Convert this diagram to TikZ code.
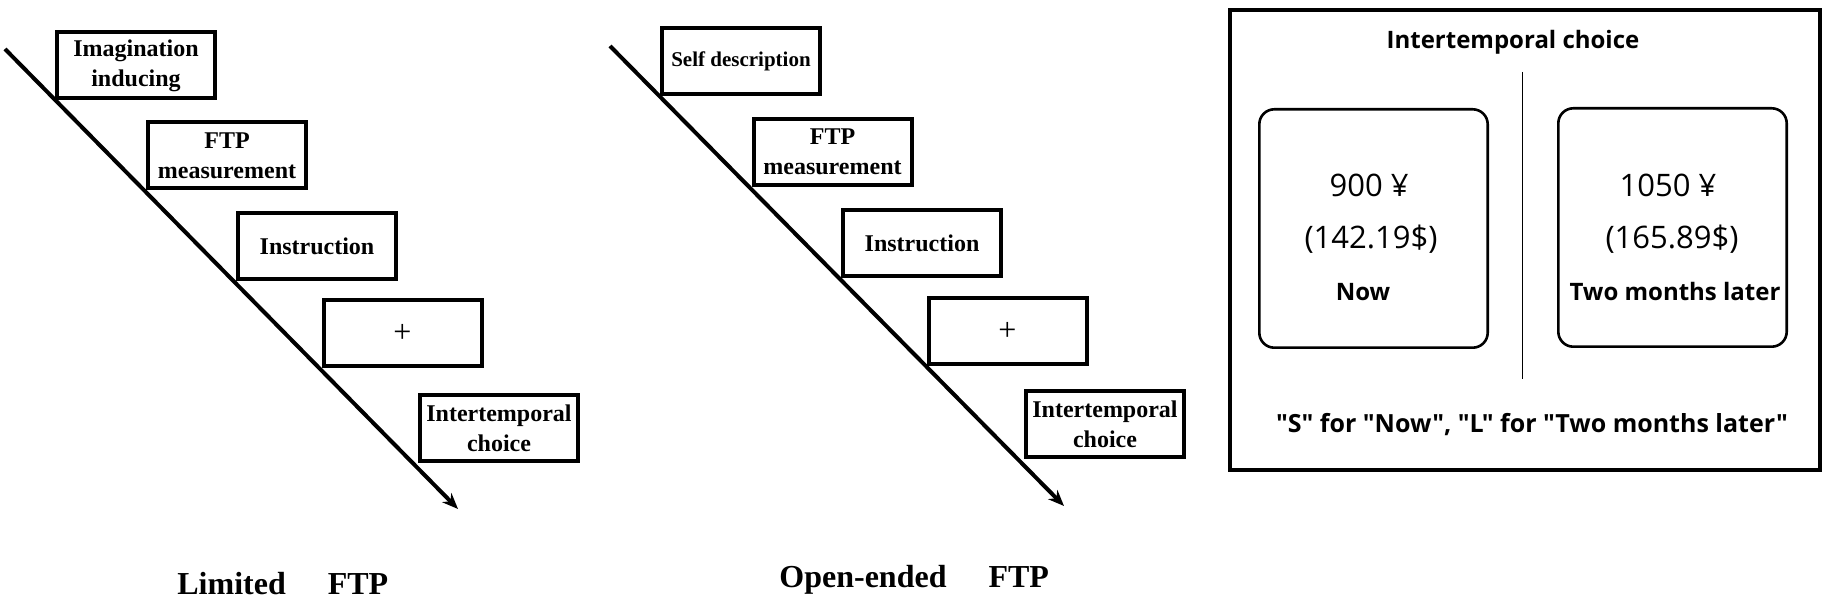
\documentclass[tikz,border=0pt]{standalone}
\usepackage{fontspec}
\setmainfont{Liberation Serif}
\newfontfamily\panelfont{Open Sans}
\usetikzlibrary{arrows.meta}

\begin{document}
\begin{tikzpicture}[x=0.5pt, y=-0.5pt,
  stage/.style={rectangle, draw, line width=2pt, minimum width=79pt, minimum height=33pt, inner sep=0pt, font=\fontsize{12}{15}\selectfont\bfseries, align=center},
  option/.style={rectangle, draw, line width=1.3pt, rounded corners=7.5pt, minimum width=114.2pt, minimum height=119.2pt},
  panel/.style={rectangle, draw, line width=2.2pt, minimum width=295pt, minimum height=230pt},
  caption/.style={inner sep=0pt, anchor=base west, font=\fontsize{16}{19}\selectfont\bfseries},
  amount/.style={inner sep=0pt, anchor=base, font=\panelfont\fontsize{15.5}{18}\selectfont},
  period/.style={inner sep=0pt, anchor=base, font=\panelfont\bfseries\fontsize{12}{15}\selectfont},
  timeline/.style={line width=2pt, -{Stealth[length=8pt, width=6.5pt]}}
]
\useasboundingbox (0,0) rectangle (1830,603);

% Limited FTP
\node[stage] (imag) at (136,65.5) {Imagination\\inducing};
\node[stage] (ftpa) at (227,155.5) {FTP\\measurement};
\node[stage] (insta) at (317,246.5) {Instruction};
\node[stage, font=\fontsize{16}{19}\selectfont] (fixa) at (402.5,333) {+};
\node[stage] (choicea) at (499,428) {Intertemporal\\choice};

% Open-ended FTP
\node[stage, font=\fontsize{10.5}{13}\selectfont\bfseries] (self) at (741,61.5) {Self description};
\node[stage] (ftpb) at (832.5,152) {FTP\\measurement};
\node[stage] (instb) at (922,243.5) {Instruction};
\node[stage, font=\fontsize{16}{19}\selectfont] (fixb) at (1007.5,331) {+};
\node[stage] (choiceb) at (1105,424) {Intertemporal\\choice};

% Time lines
\coordinate (starta) at (5,49);
\coordinate (enda) at (458,509);
\coordinate (startb) at (610,46);
\coordinate (endb) at (1064,506);
\draw[timeline] (starta) -- (enda);
\draw[timeline] (startb) -- (endb);

% Captions
\node[caption] (capa) at (177,595) {Limited\hspace{21pt}FTP};
\node[caption] (capb) at (779,587) {Open-ended\hspace{21pt}FTP};

% Choice screen
\node[panel] (frame) at (1525,240) {};
\node[period] (title) at (1513,49) {Intertemporal choice};
\coordinate (divtop) at (1522.5,72);
\coordinate (divbot) at (1522.5,379);
\draw[line width=0.8pt] (divtop) -- (divbot);

\node[option] (now) at (1373.5,228.5) {};
\node[option] (later) at (1672.5,227.5) {};

\node[amount] (nowcny) at (1369,197) {900 ¥};
\node[amount] (nowusd) at (1371,249) {(142.19\$)};
\node[period] (nowlbl) at (1363,301) {Now};

\node[amount] (latercny) at (1668,197) {1050 ¥};
\node[amount] (laterusd) at (1672,249) {(165.89\$)};
\node[period] (laterlbl) at (1675,301) {Two months later};

\node[period, font=\panelfont\bfseries\fontsize{12.5}{15}\selectfont] (keys) at (1532,433) {"S" for "Now", "L" for "Two months later"};

\end{tikzpicture}
\end{document}
